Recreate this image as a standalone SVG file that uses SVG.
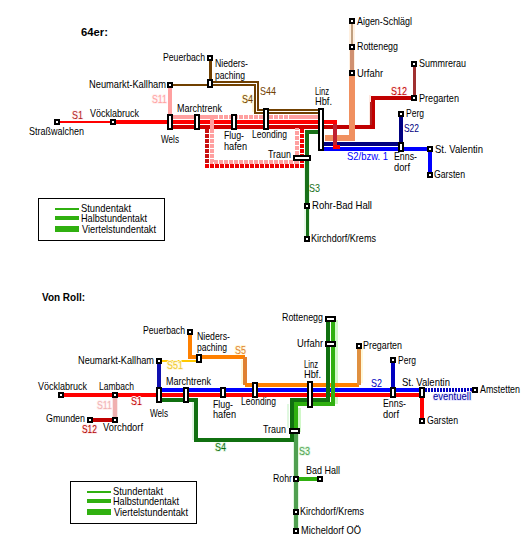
<svg xmlns="http://www.w3.org/2000/svg" width="528" height="545" viewBox="0 0 528 545">
<style>
text{font-family:"Liberation Sans",Arial,sans-serif;font-size:11px;fill:#000;}
text.h{font-weight:bold;}
text.lb{paint-order:stroke;stroke-width:2px;stroke-linejoin:round;}
.c path,.c line{fill:none;shape-rendering:crispEdges;}
.n{fill:#fff;stroke:#000;stroke-width:2;shape-rendering:crispEdges;}
.box{fill:#fff;stroke:#000;stroke-width:1;shape-rendering:crispEdges;}
.w2{stroke-width:2}.w3{stroke-width:3}.w4{stroke-width:4}.w6{stroke-width:6}
.d{stroke-dasharray:4 1}
.leg{stroke:#30b010;shape-rendering:crispEdges;}
</style>
<rect width="528" height="545" fill="#fff"/>
<text class="h" x="81" y="36" textLength="27" lengthAdjust="spacingAndGlyphs">64er:</text>
<text class="h" x="42" y="301" textLength="43" lengthAdjust="spacingAndGlyphs">Von Roll:</text>

<g id="connectors" class="c">
 <!-- top map halos -->
 <path class="w6" stroke="#fff0e0" d="M352 21V73"/>
 <path class="w2" stroke="#fff8d8" d="M253 96V112"/>
 <path class="w2" stroke="#ffe8e0" d="M370 95V127"/>
 <path class="w6" stroke="#e8f8e8" d="M307 160V239"/>
 <!-- top map lines -->
 <path class="w3" stroke="#704000" d="M210 58V81"/>
 <path class="w2" stroke="#704000" d="M170 85H208"/>
 <path class="w2" stroke="#704000" d="M212 82H258V110H318"/>
 <path class="w2" stroke="#704000" d="M212 85H255V113H318"/>
 <path class="w4" stroke="#ffa0a0" d="M170 85V115"/>
 <path class="w2" stroke="#ff0000" d="M57 122H113"/>
 <path class="w4" stroke="#ff0000" d="M113 122H318"/>
 <path class="w4" stroke="#d00000" d="M170 127H318"/>
 <path class="w4" stroke="#ffa0a0" d="M172 117H212V129M292 117H318"/>
 <path class="w4 d" stroke="#fff" d="M214 117H292"/>
 <path class="w4 d" stroke="#ffa0a0" d="M214 117H292"/>
 <path class="w4 d" stroke="#ffa0a0" d="M212 129V162H297V128"/>
 <path class="w4 d" stroke="#c81010" d="M207 129V166"/>
 <path class="w4 d" stroke="#f00000" d="M205 166H302V128"/>
 <path class="w4" stroke="#c00000" d="M324 127H373V98H412"/>
 <path class="w2" stroke="#b02020" d="M371 102V125"/>
 <path class="w3" stroke="#a03030" d="M414 63V98"/>
 <path class="w2" stroke="#c0a080" d="M352 21V47"/>
 <path class="w4" stroke="#d09070" d="M352 47V73"/>
 <path class="w6" stroke="#f09060" d="M352 73V138H325"/>
 <path class="w4" stroke="#000080" d="M401 114V144H324"/>
 <path class="w4" stroke="#0000ff" d="M324 149H430V175"/>
 <path class="w4" stroke="#ff0000" d="M324 122H335V147H340"/>
 <path class="w4" stroke="#c02030" d="M335 124V145"/>
 <path class="w4" stroke="#187018" d="M318 132H307V206"/>
 <path class="w3" stroke="#187018" d="M307 206V239"/>
 <!-- bottom map halos -->
 <path class="w2" stroke="#fff8d8" d="M242 360V384"/>
 <path class="w2" stroke="#fff8d8" d="M362 347V383"/>
 <path class="w2" stroke="#e0f8e0" d="M193 402V440"/>
 <path class="w2" stroke="#e0f8e0" d="M288 404V428"/>
 <path class="w3" stroke="#d0f8c8" d="M336 320V404"/>
 <path class="w3" stroke="#d0f8c8" d="M299 408V432"/>
 <path class="w6" stroke="#e0f8e0" d="M296 434V531"/>
 <path class="w6" stroke="#f8e8e8" d="M115 397V418"/>
 <!-- bottom map lines -->
 <path class="w4" stroke="#ff0000" d="M61 395H422V421"/>
 <path class="w4" stroke="#f0b0b0" d="M115 397V418"/>
 <path class="w4" stroke="#c00000" d="M90 420H115"/>
 <path class="w4" stroke="#1010b0" d="M159 361V388"/>
 <path class="w2" stroke="#ffc800" d="M159 361H197"/>
 <path class="w4" stroke="#ff8000" d="M190 332V357H245"/>
 <path class="w4" stroke="#e08030" d="M245 357V385"/>
 <path class="w4" stroke="#ff8000" d="M245 385H359"/>
 <path class="w4" stroke="#e09040" d="M359 385V346"/>
 <path class="w4" stroke="#0000ff" d="M159 390H422"/>
 <path class="w4" stroke="#0000c0" d="M393 360V388"/>
 <path class="w4" stroke="#0000c0" stroke-dasharray="2 1" d="M425 390H475"/>
 <path class="w4" stroke="#107010" d="M162 400H196V440H292V400H328V319"/>
 <path class="w4" stroke="#30b010" d="M333 319V404H296V434"/>
 <path class="w4" stroke="#50a050" d="M296 434V531"/>
 <path class="w4" stroke="#30b010" d="M296 479H320"/>
</g>

<g id="labels-lines">
 <text class="lb" x="152" y="103" textLength="15" lengthAdjust="spacingAndGlyphs" stroke="#fff0f0" style="fill:#ffa0a0">S11</text>
 <text class="lb" x="242" y="103" textLength="11" lengthAdjust="spacingAndGlyphs" stroke="#fff8d8" style="fill:#704000">S4</text>
 <text x="260" y="95" textLength="16" lengthAdjust="spacingAndGlyphs" style="fill:#704000">S44</text>
 <text class="lb" x="72" y="119" textLength="11" lengthAdjust="spacingAndGlyphs" stroke="#fff0f0" style="fill:#b02020">S1</text>
 <text class="lb" x="391" y="95" textLength="16" lengthAdjust="spacingAndGlyphs" stroke="#fff0f0" style="fill:#c00000">S12</text>
 <text x="404" y="132" textLength="15" lengthAdjust="spacingAndGlyphs" style="fill:#000080">S22</text>
 <text x="347" y="160" textLength="41" lengthAdjust="spacingAndGlyphs" style="fill:#0000ff">S2/bzw. 1</text>
 <text x="309" y="192" textLength="11" lengthAdjust="spacingAndGlyphs" style="fill:#187018">S3</text>
 <text class="lb" x="235" y="354" textLength="11" lengthAdjust="spacingAndGlyphs" stroke="#fff8d8" style="fill:#e08030">S5</text>
 <text class="lb" x="167" y="369" textLength="16" lengthAdjust="spacingAndGlyphs" stroke="#fff8d8" style="fill:#f0c830">S51</text>
 <text class="lb" x="131" y="405" textLength="11" lengthAdjust="spacingAndGlyphs" stroke="#fff0f0" style="fill:#c00000">S1</text>
 <text class="lb" x="97" y="409" textLength="15" lengthAdjust="spacingAndGlyphs" stroke="#fff0f0" style="fill:#f0b0b0">S11</text>
 <text class="lb" x="82" y="433" textLength="15" lengthAdjust="spacingAndGlyphs" stroke="#ffe8e8" style="fill:#b00000">S12</text>
 <text class="lb" x="215" y="451" textLength="11" lengthAdjust="spacingAndGlyphs" stroke="#e0f8e0" style="fill:#107010">S4</text>
 <text x="371" y="387" textLength="11" lengthAdjust="spacingAndGlyphs" style="fill:#0000c0">S2</text>
 <text class="lb" x="433" y="400" textLength="38" lengthAdjust="spacingAndGlyphs" stroke="#e8e8ff" style="fill:#0000a0">eventuell</text>
 <text class="lb" x="299" y="455" textLength="11" lengthAdjust="spacingAndGlyphs" stroke="#e0f8e0" style="fill:#50a050">S3</text>
</g>

<g id="top-peuerbach"><rect class="n" x="208" y="56" width="4" height="4"/><text x="163" y="61" textLength="42" lengthAdjust="spacingAndGlyphs">Peuerbach</text></g>
<g id="top-niederspaching"><rect class="n" x="208" y="80" width="4" height="7"/><text x="215" y="67" textLength="33" lengthAdjust="spacingAndGlyphs">Nieders-</text><text x="215" y="79" textLength="30" lengthAdjust="spacingAndGlyphs">paching</text></g>
<g id="top-neumarkt"><rect class="n" x="168" y="83" width="4" height="4"/><text x="89" y="88" textLength="77" lengthAdjust="spacingAndGlyphs">Neumarkt-Kallham</text></g>
<g id="top-strasswalchen"><rect class="n" x="55" y="120" width="4" height="4"/><text x="29" y="135" textLength="55" lengthAdjust="spacingAndGlyphs">Straßwalchen</text></g>
<g id="top-voecklabruck"><rect class="n" x="111" y="120" width="4" height="4"/><text x="90" y="117" textLength="49" lengthAdjust="spacingAndGlyphs">Vöcklabruck</text></g>
<g id="top-wels"><rect class="n" x="168" y="115" width="4" height="14"/><text x="161" y="143" textLength="18" lengthAdjust="spacingAndGlyphs">Wels</text></g>
<g id="top-marchtrenk"><rect class="n" x="195" y="115" width="4" height="14"/><text x="177" y="112" textLength="45" lengthAdjust="spacingAndGlyphs">Marchtrenk</text></g>
<g id="top-flughafen"><rect class="n" x="232" y="115" width="4" height="14"/><text x="224" y="139" textLength="20" lengthAdjust="spacingAndGlyphs">Flug-</text><text x="224" y="150" textLength="23" lengthAdjust="spacingAndGlyphs">hafen</text></g>
<g id="top-leonding"><rect class="n" x="264" y="109" width="4" height="20"/><text x="252" y="138" textLength="35" lengthAdjust="spacingAndGlyphs">Leonding</text></g>
<g id="top-linz"><rect class="n" x="319" y="109" width="4" height="41"/><text x="315" y="95" textLength="14" lengthAdjust="spacingAndGlyphs">Linz</text><text x="315" y="105" textLength="17" lengthAdjust="spacingAndGlyphs">Hbf.</text></g>
<g id="top-traun"><rect class="n" x="294" y="156" width="16" height="4"/><text x="268" y="158" textLength="23" lengthAdjust="spacingAndGlyphs">Traun</text></g>
<g id="top-aigen"><rect class="n" x="350" y="19" width="4" height="4"/><text x="357" y="25" textLength="55" lengthAdjust="spacingAndGlyphs">Aigen-Schlägl</text></g>
<g id="top-rottenegg"><rect class="n" x="350" y="45" width="4" height="4"/><text x="357" y="50" textLength="41" lengthAdjust="spacingAndGlyphs">Rottenegg</text></g>
<g id="top-urfahr"><rect class="n" x="350" y="71" width="4" height="4"/><text x="357" y="77" textLength="26" lengthAdjust="spacingAndGlyphs">Urfahr</text></g>
<g id="top-summrerau"><rect class="n" x="412" y="62" width="4" height="4"/><text x="419" y="67" textLength="47" lengthAdjust="spacingAndGlyphs">Summrerau</text></g>
<g id="top-pregarten"><rect class="n" x="412" y="96" width="4" height="4"/><text x="419" y="102" textLength="40" lengthAdjust="spacingAndGlyphs">Pregarten</text></g>
<g id="top-perg"><rect class="n" x="399" y="112" width="4" height="4"/><text x="406" y="117" textLength="18" lengthAdjust="spacingAndGlyphs">Perg</text></g>
<g id="top-ennsdorf"><rect class="n" x="399" y="143" width="4" height="8"/><text x="394" y="160" textLength="23" lengthAdjust="spacingAndGlyphs">Enns-</text><text x="394" y="171" textLength="16" lengthAdjust="spacingAndGlyphs">dorf</text></g>
<g id="top-valentin"><rect class="n" x="428" y="147" width="4" height="4"/><text x="435" y="153" textLength="48" lengthAdjust="spacingAndGlyphs">St. Valentin</text></g>
<g id="top-garsten"><rect class="n" x="428" y="173" width="4" height="4"/><text x="434" y="178" textLength="31" lengthAdjust="spacingAndGlyphs">Garsten</text></g>
<g id="top-rohr"><rect class="n" x="305" y="204" width="4" height="4"/><text x="312" y="209" textLength="60" lengthAdjust="spacingAndGlyphs">Rohr-Bad Hall</text></g>
<g id="top-kirchdorf"><rect class="n" x="305" y="237" width="4" height="4"/><text x="311" y="242" textLength="65" lengthAdjust="spacingAndGlyphs">Kirchdorf/Krems</text></g>

<g id="legend-top">
 <rect class="box" x="38.5" y="198.5" width="126" height="42"/>
 <line class="leg w2" x1="55" y1="209" x2="79" y2="209"/>
 <line class="leg w4" x1="55" y1="218" x2="79" y2="218"/>
 <line class="leg w6" x1="55" y1="229" x2="79" y2="229"/>
 <text x="81" y="212" textLength="50" lengthAdjust="spacingAndGlyphs">Stundentakt</text>
 <text x="81" y="222" textLength="66" lengthAdjust="spacingAndGlyphs">Halbstundentakt</text>
 <text x="82" y="233" textLength="74" lengthAdjust="spacingAndGlyphs">Viertelstundentakt</text>
</g>

<g id="bot-voecklabruck"><rect class="n" x="59" y="393" width="4" height="4"/><text x="38" y="390" textLength="49" lengthAdjust="spacingAndGlyphs">Vöcklabruck</text></g>
<g id="bot-lambach"><rect class="n" x="113" y="393" width="4" height="4"/><text x="99" y="390" textLength="35" lengthAdjust="spacingAndGlyphs">Lambach</text></g>
<g id="bot-vorchdorf"><rect class="n" x="113" y="418" width="4" height="4"/><text x="103" y="431" textLength="40" lengthAdjust="spacingAndGlyphs">Vorchdorf</text></g>
<g id="bot-gmunden"><rect class="n" x="88" y="418" width="4" height="4"/><text x="46" y="422" textLength="39" lengthAdjust="spacingAndGlyphs">Gmunden</text></g>
<g id="bot-neumarkt"><rect class="n" x="157" y="359" width="4" height="4"/><text x="78" y="364" textLength="76" lengthAdjust="spacingAndGlyphs">Neumarkt-Kallham</text></g>
<g id="bot-peuerbach"><rect class="n" x="188" y="330" width="4" height="4"/><text x="143" y="334" textLength="42" lengthAdjust="spacingAndGlyphs">Peuerbach</text></g>
<g id="bot-niederspaching"><rect class="n" x="197" y="355" width="4" height="7"/><text x="197" y="340" textLength="33" lengthAdjust="spacingAndGlyphs">Nieders-</text><text x="197" y="351" textLength="30" lengthAdjust="spacingAndGlyphs">paching</text></g>
<g id="bot-wels"><rect class="n" x="157" y="388" width="4" height="14"/><text x="150" y="417" textLength="18" lengthAdjust="spacingAndGlyphs">Wels</text></g>
<g id="bot-marchtrenk"><rect class="n" x="184" y="388" width="4" height="14"/><text x="166" y="385" textLength="45" lengthAdjust="spacingAndGlyphs">Marchtrenk</text></g>
<g id="bot-flughafen"><rect class="n" x="221" y="388" width="4" height="9"/><text x="213" y="408" textLength="20" lengthAdjust="spacingAndGlyphs">Flug-</text><text x="213" y="418" textLength="23" lengthAdjust="spacingAndGlyphs">hafen</text></g>
<g id="bot-leonding"><rect class="n" x="253" y="383" width="4" height="14"/><text x="241" y="405" textLength="35" lengthAdjust="spacingAndGlyphs">Leonding</text></g>
<g id="bot-linz"><rect class="n" x="308" y="382" width="4" height="25"/><text x="304" y="368" textLength="14" lengthAdjust="spacingAndGlyphs">Linz</text><text x="304" y="378" textLength="17" lengthAdjust="spacingAndGlyphs">Hbf.</text></g>
<g id="bot-traun"><rect class="n" x="290" y="429" width="9" height="4"/><text x="263" y="433" textLength="23" lengthAdjust="spacingAndGlyphs">Traun</text></g>
<g id="bot-rottenegg"><rect class="n" x="326" y="317" width="9" height="4"/><text x="282" y="321" textLength="41" lengthAdjust="spacingAndGlyphs">Rottenegg</text></g>
<g id="bot-urfahr"><rect class="n" x="326" y="342" width="9" height="4"/><text x="297" y="347" textLength="26" lengthAdjust="spacingAndGlyphs">Urfahr</text></g>
<g id="bot-pregarten"><rect class="n" x="357" y="344" width="4" height="4"/><text x="363" y="349" textLength="39" lengthAdjust="spacingAndGlyphs">Pregarten</text></g>
<g id="bot-perg"><rect class="n" x="391" y="358" width="4" height="4"/><text x="398" y="364" textLength="18" lengthAdjust="spacingAndGlyphs">Perg</text></g>
<g id="bot-ennsdorf"><rect class="n" x="391" y="388" width="4" height="9"/><text x="383" y="407" textLength="23" lengthAdjust="spacingAndGlyphs">Enns-</text><text x="383" y="418" textLength="16" lengthAdjust="spacingAndGlyphs">dorf</text></g>
<g id="bot-valentin"><rect class="n" x="420" y="388" width="4" height="9"/><text x="402" y="386" textLength="48" lengthAdjust="spacingAndGlyphs">St. Valentin</text></g>
<g id="bot-amstetten"><rect class="n" x="473" y="388" width="4" height="4"/><text x="480" y="393" textLength="40" lengthAdjust="spacingAndGlyphs">Amstetten</text></g>
<g id="bot-garsten"><rect class="n" x="420" y="419" width="4" height="4"/><text x="427" y="424" textLength="31" lengthAdjust="spacingAndGlyphs">Garsten</text></g>
<g id="bot-rohr"><rect class="n" x="294" y="477" width="4" height="4"/><text x="273" y="482" textLength="19" lengthAdjust="spacingAndGlyphs">Rohr</text></g>
<g id="bot-badhall"><rect class="n" x="318" y="477" width="4" height="4"/><text x="306" y="474" textLength="34" lengthAdjust="spacingAndGlyphs">Bad Hall</text></g>
<g id="bot-kirchdorf"><rect class="n" x="294" y="510" width="4" height="4"/><text x="300" y="515" textLength="64" lengthAdjust="spacingAndGlyphs">Kirchdorf/Krems</text></g>
<g id="bot-micheldorf"><rect class="n" x="294" y="529" width="4" height="4"/><text x="301" y="534" textLength="60" lengthAdjust="spacingAndGlyphs">Micheldorf OÖ</text></g>

<g id="legend-bottom">
 <rect class="box" x="70.5" y="481.5" width="126" height="42"/>
 <line class="leg w2" x1="87" y1="492" x2="111" y2="492"/>
 <line class="leg w4" x1="87" y1="501" x2="111" y2="501"/>
 <line class="leg w6" x1="87" y1="512" x2="111" y2="512"/>
 <text x="113" y="495" textLength="50" lengthAdjust="spacingAndGlyphs">Stundentakt</text>
 <text x="113" y="505" textLength="66" lengthAdjust="spacingAndGlyphs">Halbstundentakt</text>
 <text x="114" y="516" textLength="74" lengthAdjust="spacingAndGlyphs">Viertelstundentakt</text>
</g>
</svg>
